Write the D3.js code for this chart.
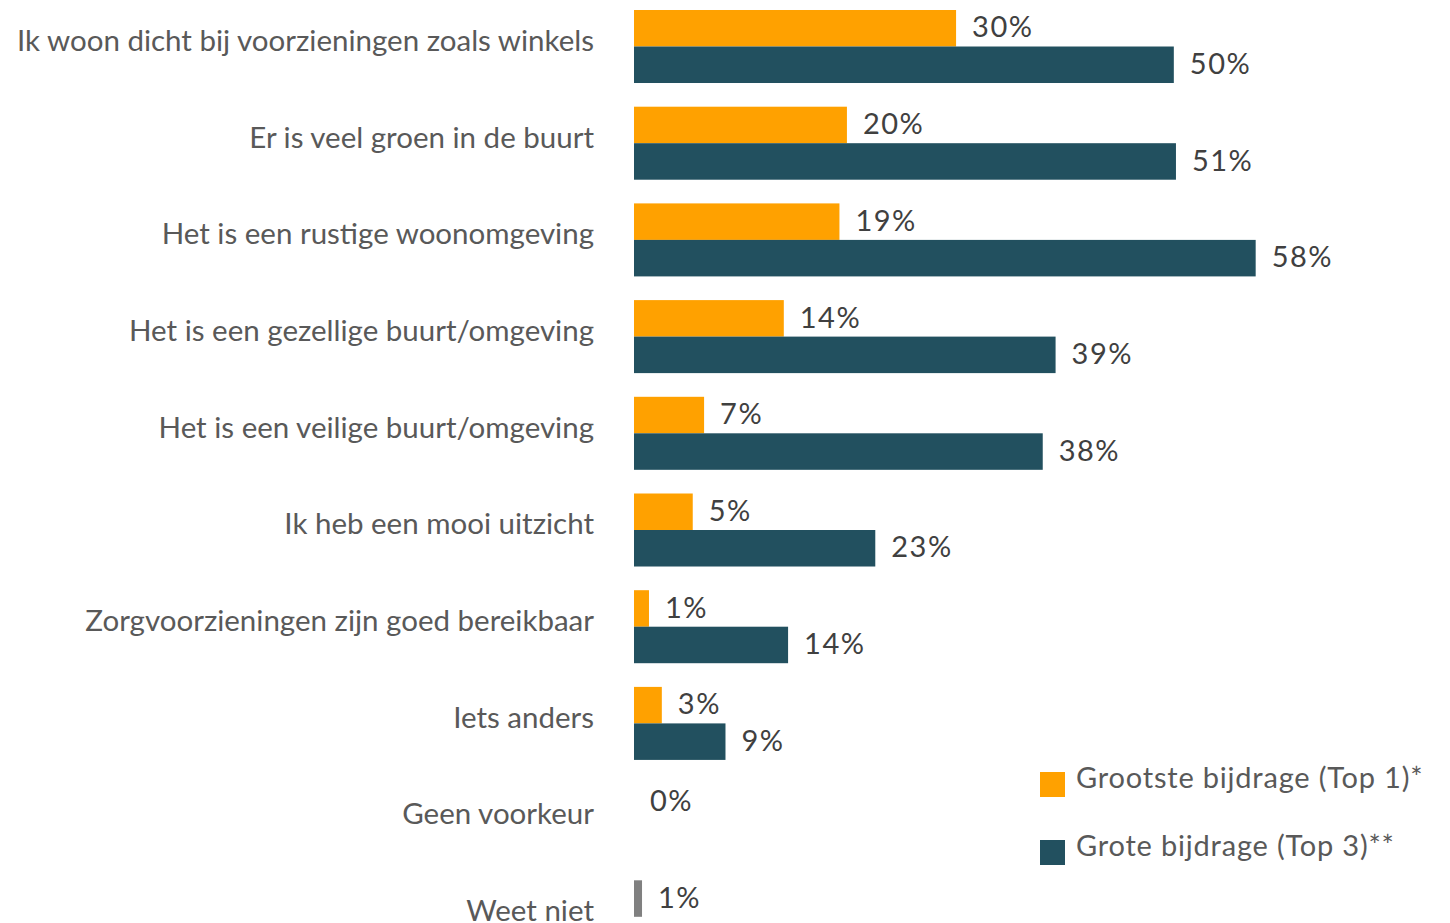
<!DOCTYPE html>
<html>
<head>
<meta charset="utf-8">
<script src="https://cdn.jsdelivr.net/npm/d3@7"></script>
<style>
  body { margin: 0; background: #fff; }
  svg { display: block; font-family: Lato, "Open Sans", sans-serif; }
</style>
</head>
<body>
<svg width="1450" height="923"></svg>
<script>
// Data (percentages, labels shown rounded)
const categories = [
  "Ik woon dicht bij voorzieningen zoals winkels",
  "Er is veel groen in de buurt",
  "Het is een rustige woonomgeving",
  "Het is een gezellige buurt/omgeving",
  "Het is een veilige buurt/omgeving",
  "Ik heb een mooi uitzicht",
  "Zorgvoorzieningen zijn goed bereikbaar",
  "Iets anders",
  "Geen voorkeur",
  "Weet niet"
];
const top1 = [30.1, 19.9, 19.2, 14.0, 6.55, 5.49, 1.4, 2.6, 0, 0.75];
const top3 = [50.45, 50.65, 58.1, 39.4, 38.2, 22.55, 14.4, 8.55, null, null];
const seriesNames = ["Grootste bijdrage (Top 1)*", "Grote bijdrage (Top 3)**"];

const colors = {top1: "#FFA100", top3: "#22505F", other: "#808080"};

const svg = d3.select("svg");

// Scales
const x = d3.scaleLinear()
    .domain([0, 60])
    .range([634, 634 + 60 * 10.7]);

const step = 96.7;
const y0 = d3.scaleBand()
    .domain(categories)
    .range([10, 10 + categories.length * step - 0.245 * step])
    .paddingInner(0.245)
    .paddingOuter(0);

const y1 = d3.scaleBand()
    .domain(["top1", "top3"])
    .range([0, y0.bandwidth()]);

// Rows
const rows = categories.map(function(c, i) {
  return {cat: c, top1: top1[i], top3: top3[i]};
});

const g = svg.selectAll("g.row")
    .data(rows)
    .enter()
    .append("g")
    .attr("class", "row")
    .attr("transform", function(d) { return "translate(0," + y0(d.cat) + ")"; });

// Category labels
g.append("text")
    .attr("x", 594)
    .attr("y", y0.bandwidth() / 2 - 6)
    .attr("dy", "0.35em")
    .attr("text-anchor", "end")
    .attr("fill", "#595959")
    .style("font-size", "29.5px")
    .text(function(d) { return d.cat; });

// Bars + value labels
["top1", "top3"].forEach(function(key) {
  const sub = g.filter(function(d) { return d[key] !== null; });
  sub.append("rect")
      .attr("x", x(0))
      .attr("y", y1(key))
      .attr("height", y1.bandwidth())
      .attr("width", function(d) { return x(d[key]) - x(0); })
      .attr("fill", function(d) {
        if (d.cat === "Weet niet") return colors.other;
        return colors[key];
      });
  sub.append("text")
      .attr("x", function(d) { return x(d[key]) + 16; })
      .attr("y", y1(key) + y1.bandwidth() / 2 - 1)
      .attr("dy", "0.35em")
      .attr("fill", "#404040")
      .style("font-size", "29px")
      .style("letter-spacing", "1.5px")
      .text(function(d) { return Math.round(d[key]) + "%"; });
});

// Legend
const legend = svg.append("g")
    .attr("transform", "translate(1040,772)");
const items = legend.selectAll("g")
    .data(seriesNames)
    .enter()
    .append("g")
    .attr("transform", function(d, i) { return "translate(0," + (i * 68) + ")"; });
items.append("rect")
    .attr("width", 25)
    .attr("height", 25)
    .attr("fill", function(d, i) { return i === 0 ? colors.top1 : colors.top3; });
items.append("text")
    .attr("x", 36)
    .attr("y", 6)
    .attr("dy", "0.35em")
    .attr("fill", "#595959")
    .style("font-size", "29px")
    .style("letter-spacing", "0.8px")
    .text(function(d) { return d; });
</script>
</body>
</html>
